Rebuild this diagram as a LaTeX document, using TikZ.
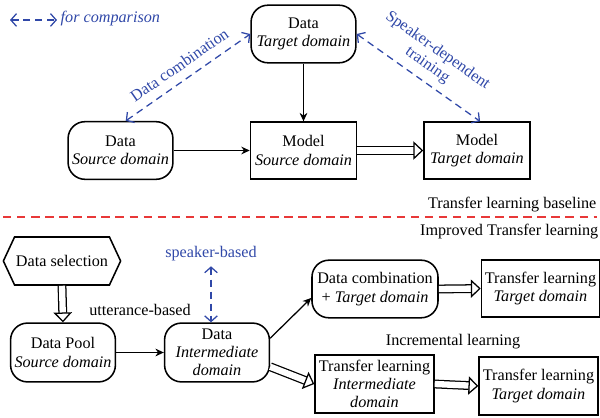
\documentclass[tikz,border=0pt]{standalone}
\usepackage{fontspec}
\setmainfont{Liberation Serif}
\usetikzlibrary{arrows.meta,shapes.symbols}
\definecolor{cmpblue}{RGB}{48,72,168}
\definecolor{splitred}{RGB}{232,56,56}

\begin{document}
\begin{tikzpicture}[
    x=0.025cm, y=-0.025cm,
    every node/.style={font=\fontsize{11.5}{13}\selectfont},
    datbox/.style={draw, rounded corners=12pt, line width=1.1pt, align=center, inner sep=1pt, minimum width=2.62cm, minimum height=1.44cm},
    modbox/.style={draw, line width=1.1pt, align=center, inner sep=1pt, minimum width=2.65cm, minimum height=1.42cm},
    fat/.style={double, double distance=4.5pt, line width=0.9pt, -{Triangle[open, length=7pt, width=13pt]}},
    plain/.style={->, line width=0.9pt, >={Stealth[length=6pt, width=5.5pt]}},
    cmp/.style={{Straight Barb[length=4pt, width=9pt]}-{Straight Barb[length=4pt, width=9pt]}, dash pattern=on 5pt off 3.5pt, line width=0.9pt, draw=cmpblue},
    cmplabel/.style={text=cmpblue}
]
\useasboundingbox (0,0) rectangle (600,418);

% Legend
\coordinate (legA) at (10,20);
\coordinate (legB) at (57,20);
\draw[cmp] (legA) -- (legB);
\node[cmplabel, anchor=west, inner sep=1pt, font=\fontsize{11.5}{13}\selectfont\itshape] (legtxt) at (59,19) {for comparison};

% Baseline
\node[datbox] (dTgt) at (303.5,34) {Data\\\textit{Target domain}};
\node[datbox] (dSrc) at (120.5,150.5) {Data\\\textit{Source domain}};
\node[modbox] (mSrc) at (303.5,150.5) {Model\\\textit{Source domain}};
\node[modbox] (mTgt) at (477,150.5) {Model\\\textit{Target domain}};

\draw[plain] (dSrc.east) -- (mSrc.west);
\draw[plain] (dTgt.south) -- (mSrc.north);
\draw[fat] (mSrc.east) -- (mTgt.west);

\draw[cmp] (dSrc.80) -- node[cmplabel, sloped, above=3pt] {Data combination} (dTgt.west);
\draw[cmp] (dTgt.east) -- node[cmplabel, sloped, above=2pt, align=center, font=\fontsize{11.5}{12.5}\selectfont] {Speaker-dependent\\training} (mTgt.84);

\node[anchor=east, inner sep=1pt] (basetxt) at (598,205) {Transfer learning baseline};
\coordinate (sepL) at (3,217);
\coordinate (sepR) at (597,217);
\draw[splitred, line width=0.9pt, dash pattern=on 6pt off 4pt] (sepL) -- (sepR);
\node[anchor=east, inner sep=1pt] (imptxt) at (600,232) {Improved Transfer learning};

% Improved
\node[draw, line width=1.1pt, signal, signal to=west and east, signal pointer angle=130, minimum width=2.72cm, minimum height=1.2cm, inner sep=1pt] (sel) at (62,261) {Data selection};
\node[datbox, minimum height=1.47cm] (pool) at (63,352.5) {Data Pool\\\textit{Source domain}};
\node[datbox, minimum height=1.47cm] (dInt) at (217,352.5) {Data\\\textit{Intermediate}\\\textit{domain}};
\node[datbox, minimum width=3.15cm] (comb) at (375,289) {Data combination\\+ \textit{Target domain}};
\node[modbox, minimum width=2.95cm] (tlTgtA) at (540.5,288.5) {Transfer learning\\\textit{Target domain}};
\node[modbox, minimum width=2.97cm, minimum height=1.45cm] (tlInt) at (374.5,384) {Transfer learning\\\textit{Intermediate}\\\textit{domain}};
\node[modbox, minimum width=2.97cm, minimum height=1.45cm] (tlTgtB) at (538.5,386) {Transfer learning\\\textit{Target domain}};

\node (uttxt) at (140,310) {utterance-based};
\node[cmplabel] (spk) at (211,254) {speaker-based};
\node (inctxt) at (453,342) {Incremental learning};

\draw[fat] (sel.south) -- (pool.north);
\draw[plain] (pool.east) -- (dInt.west);
\draw[cmp] (spk.south) -- (spk.south |- dInt.north);
\draw[plain] (dInt.15) -- (comb.188);
\draw[fat] (comb.east) -- (tlTgtA.west);
\draw[fat] (dInt.-15) -- (tlInt.west);
\draw[fat] (tlInt.east) -- (tlTgtB.west);

\end{tikzpicture}
\end{document}
